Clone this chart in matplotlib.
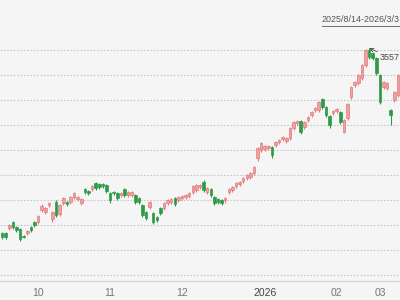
import matplotlib.pyplot as plt
import numpy as np

# daily candles, visible window (mid Sep 2025 -> early Mar 2026)
opens = [2818, 2818, 2838, 2862, 2842, 2834, 2806, 2818, 2842, 2862,
         2862, 2910, 2902, 2930, 2874, 2942, 2894, 2938, 2942, 2942,
         2962, 2954, 2938, 2994, 2986, 2994, 3018, 3014, 3014, 3010,
         2978, 2982, 2978, 2970, 2994, 2970, 2970, 2970, 2958, 2930,
         2902, 2922, 2898, 2882, 2918, 2918, 2938, 2942, 2958, 2950,
         2958, 2962, 2966, 2982, 2990, 3002, 3022, 2982, 2994, 2962,
         2954, 2950, 2950, 2982, 2990, 3006, 3014, 3026, 3038, 3042,
         3058, 3118, 3150, 3154, 3158, 3162, 3170, 3182, 3194, 3186,
         3198, 3238, 3258, 3266, 3242, 3270, 3290, 3310, 3310, 3354,
         3322, 3286, 3298, 3306, 3302, 3222, 3278, 3362, 3410, 3418,
         3438, 3490, 3550, 3538, 3518, 3450, 3402, 3398, 3310, 3350,
         3370]
closes = [2802, 2802, 2850, 2842, 2830, 2794, 2802, 2826, 2830, 2850,
          2886, 2926, 2918, 2938, 2902, 2890, 2930, 2958, 2934, 2962,
          2978, 2962, 2954, 2982, 2978, 3006, 2998, 3002, 3006, 2986,
          2950, 2978, 2958, 2978, 2970, 2982, 2982, 2942, 2942, 2890,
          2878, 2942, 2862, 2870, 2898, 2938, 2950, 2954, 2934, 2962,
          2966, 2970, 2978, 3006, 3010, 3010, 2990, 2998, 2970, 2938,
          2942, 2938, 2958, 2994, 3002, 3018, 3022, 3038, 3050, 3058,
          3082, 3158, 3178, 3166, 3166, 3130, 3182, 3190, 3202, 3198,
          3238, 3262, 3266, 3222, 3262, 3282, 3302, 3318, 3342, 3322,
          3290, 3250, 3306, 3314, 3262, 3270, 3334, 3402, 3422, 3450,
          3490, 3550, 3522, 3518, 3458, 3342, 3422, 3418, 3290, 3382,
          3450]
highs = [2824, 2824, 2856, 2868, 2848, 2840, 2810, 2832, 2848, 2868,
         2892, 2934, 2924, 2944, 2908, 2950, 2936, 2964, 2948, 2968,
         2984, 2968, 2960, 3000, 2992, 3012, 3024, 3020, 3020, 3016,
         2984, 2988, 2984, 2984, 3000, 2988, 2988, 2976, 2964, 2936,
         2908, 2948, 2904, 2888, 2924, 2944, 2956, 2960, 2964, 2968,
         2972, 2976, 2984, 3012, 3016, 3016, 3030, 3004, 3000, 2968,
         2960, 2956, 2964, 3000, 3008, 3024, 3028, 3044, 3056, 3064,
         3088, 3164, 3184, 3172, 3172, 3168, 3188, 3196, 3208, 3204,
         3244, 3268, 3272, 3272, 3268, 3288, 3308, 3324, 3348, 3360,
         3328, 3292, 3312, 3320, 3308, 3276, 3340, 3408, 3428, 3456,
         3496, 3554, 3557, 3544, 3524, 3456, 3428, 3424, 3316, 3388,
         3456]
lows = [2796, 2796, 2832, 2836, 2824, 2788, 2798, 2812, 2824, 2844,
        2856, 2904, 2896, 2924, 2864, 2884, 2888, 2932, 2928, 2936,
        2956, 2948, 2932, 2976, 2972, 2988, 2992, 2996, 3000, 2980,
        2938, 2972, 2952, 2964, 2964, 2964, 2964, 2936, 2936, 2884,
        2870, 2916, 2856, 2862, 2892, 2912, 2932, 2936, 2928, 2944,
        2952, 2956, 2960, 2976, 2984, 2996, 2984, 2976, 2964, 2932,
        2936, 2930, 2940, 2976, 2984, 3000, 3008, 3020, 3032, 3036,
        3052, 3108, 3144, 3148, 3152, 3120, 3164, 3176, 3188, 3180,
        3192, 3232, 3252, 3216, 3236, 3264, 3284, 3304, 3304, 3316,
        3284, 3238, 3292, 3300, 3256, 3218, 3272, 3356, 3404, 3412,
        3432, 3484, 3516, 3512, 3452, 3334, 3396, 3392, 3250, 3344,
        3364]

month_pos = [10, 30, 50, 73, 93, 105]
month_labels = ["10", "11", "12", "2026", "02", "03"]
grid_levels = [2650, 2750, 2850, 2950, 3050, 3150, 3250, 3350, 3450, 3550]

peak_label = "3557"
range_label = "2025/8/14-2026/3/3"

up_fill = "#f0a0a0"
up_edge = "#e27b7b"
down_col = "#2e9a48"
bg = "#f5f5f5"

plt.rcParams["font.family"] = ["Liberation Sans", "DejaVu Sans"]

fig = plt.figure(figsize=(4, 3), dpi=100, facecolor=bg)
ax = fig.add_axes([0, 0.0633, 1, 0.9367])
ax.set_facecolor(bg)

o = np.array(opens)
c = np.array(closes)
x = np.arange(len(o))
up = c >= o

ax.vlines(x[up], np.array(lows)[up], np.array(highs)[up], color=up_edge, lw=0.8, zorder=2)
ax.vlines(x[~up], np.array(lows)[~up], np.array(highs)[~up], color=down_col, lw=0.8, zorder=2)

bottoms = np.minimum(o, c)
heights = np.maximum(np.abs(c - o), 3)
ax.bar(x[up], heights[up], bottom=bottoms[up], width=0.72,
       color=up_fill, edgecolor=up_edge, linewidth=0.5, zorder=3)
ax.bar(x[~up], heights[~up], bottom=bottoms[~up], width=0.72,
       color=down_col, edgecolor=down_col, linewidth=0.5, zorder=3)

for g in grid_levels:
    ax.axhline(g, color="#c8c8c8", lw=0.8, ls=(0, (1.5, 1.5)), zorder=1)

ax.set_xlim(-0.56, 110.56)
ax.set_ylim(2626, 3750)

for s in ["top", "right", "left"]:
    ax.spines[s].set_visible(False)
ax.spines["bottom"].set_color("#d0d0d0")
ax.spines["bottom"].set_linewidth(0.8)
ax.set_yticks([])
ax.set_xticks(month_pos)
ax.set_xticklabels(month_labels)
ax.tick_params(axis="x", length=0, pad=5, labelsize=7.5, labelcolor="#777777")
for lab in ax.get_xticklabels():
    if lab.get_text() == "2026":
        lab.set_color("#444444")

pk = int(np.argmax(highs))
ax.annotate(peak_label, xy=(pk, highs[pk]), xytext=(pk + 3, highs[pk] - 36),
            fontsize=6.5, color="#444444", va="center", ha="left",
            arrowprops=dict(arrowstyle="->", color="#444444", lw=0.6,
                            shrinkA=0, shrinkB=0))

fig.text(322 / 400, 1 - 20 / 300, range_label, fontsize=6.4, color="#555555",
         ha="left", va="center")
fig.add_artist(plt.Line2D([322 / 400, 1], [1 - 26 / 300, 1 - 26 / 300],
                          color="#555555", lw=0.6))

fig.savefig("out.png", dpi=100, facecolor=bg)
